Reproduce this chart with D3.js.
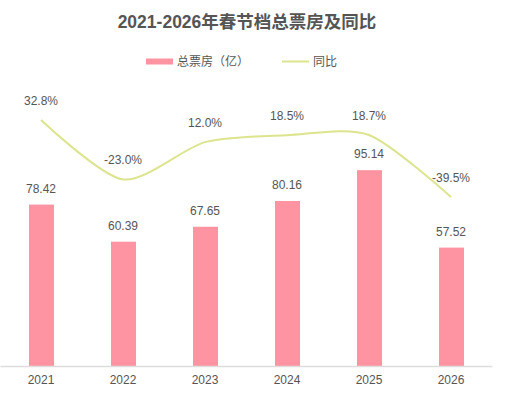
<!DOCTYPE html>
<html>
<head>
<meta charset="utf-8">
<script src="https://cdn.jsdelivr.net/npm/d3@7"></script>
<style>
  body { margin: 0; background: #fff; }
  text { font-family: "Liberation Sans", "Noto Sans CJK SC", sans-serif; }
</style>
</head>
<body>
<div id="chart"></div>
<script>
// Data
const years = ["2021", "2022", "2023", "2024", "2025", "2026"];
const boxOffice = [78.42, 60.39, 67.65, 80.16, 95.14, 57.52];
const yoy = [32.8, -23.0, 12.0, 18.5, 18.7, -39.5];

const W = 507, H = 398;
const barColor = "#fe93a1";
const lineColor = "#dde48e";
const textColor = "#555";

const svg = d3.select("#chart")
  .append("svg")
    .attr("width", W)
    .attr("height", H);

// Scales
const x = d3.scaleBand()
  .domain(years)
  .range([0, 492]);

const yBar = d3.scaleLinear()
  .domain([0, 120])
  .range([366, 119]);

const yLine = d3.scaleLinear()
  .domain([-39.5, 32.8])
  .range([197, 120]);

const cx = d => x(d) + x.bandwidth() / 2;
const barW = 25;

// Bars
svg.selectAll(".bar")
  .data(years)
  .enter()
  .append("rect")
    .attr("class", "bar")
    .attr("x", d => cx(d) - barW / 2 + 0.5)
    .attr("y", (d, i) => yBar(boxOffice[i]))
    .attr("width", barW)
    .attr("height", (d, i) => yBar(0) - yBar(boxOffice[i]))
    .attr("fill", barColor);

// Bar labels
svg.selectAll(".bar-label")
  .data(years)
  .enter()
  .append("text")
    .attr("x", d => cx(d))
    .attr("y", (d, i) => yBar(boxOffice[i]) - 12)
    .attr("text-anchor", "middle")
    .style("font-size", "12px")
    .attr("fill", textColor)
    .text((d, i) => boxOffice[i].toFixed(2));

// X axis
const xAxis = svg.append("g")
  .attr("transform", `translate(0,${yBar(0)})`)
  .call(d3.axisBottom(x).tickSize(0).tickPadding(9));
xAxis.select(".domain").attr("stroke", "#ddd").attr("stroke-width", 1.5);
xAxis.selectAll("text")
  .style("font-size", "12px")
  .style("font-family", "'Liberation Sans', sans-serif")
  .attr("fill", textColor);

// Line
const line = d3.line()
  .x(d => cx(d))
  .y((d, i) => yLine(yoy[i]))
  .curve(d3.curveCardinal.tension(0.2));

svg.append("path")
  .datum(years)
  .attr("d", line)
  .attr("fill", "none")
  .attr("stroke", lineColor)
  .attr("stroke-width", 2);

// Line labels
svg.selectAll(".line-label")
  .data(years)
  .enter()
  .append("text")
    .attr("x", d => cx(d))
    .attr("y", (d, i) => yLine(yoy[i]) - 15)
    .attr("text-anchor", "middle")
    .style("font-size", "12px")
    .attr("fill", textColor)
    .text((d, i) => yoy[i].toFixed(1) + "%");

// Title
svg.append("text")
  .attr("x", 247)
  .attr("y", 28)
  .attr("text-anchor", "middle")
  .style("font-size", "17.5px")
  .style("font-weight", "bold")
  .attr("fill", textColor)
  .text("2021-2026年春节档总票房及同比");

// Legend
const legend = svg.append("g");
legend.append("rect")
  .attr("x", 146).attr("y", 58.5)
  .attr("width", 27).attr("height", 6)
  .attr("fill", barColor);
legend.append("text")
  .attr("x", 177).attr("y", 65.5)
  .style("font-size", "12px")
  .attr("fill", textColor)
  .text("总票房（亿）");
legend.append("line")
  .attr("x1", 282).attr("x2", 309)
  .attr("y1", 61.5).attr("y2", 61.5)
  .attr("stroke", lineColor)
  .attr("stroke-width", 2);
legend.append("text")
  .attr("x", 313).attr("y", 65.5)
  .style("font-size", "12px")
  .attr("fill", textColor)
  .text("同比");
</script>
</body>
</html>
